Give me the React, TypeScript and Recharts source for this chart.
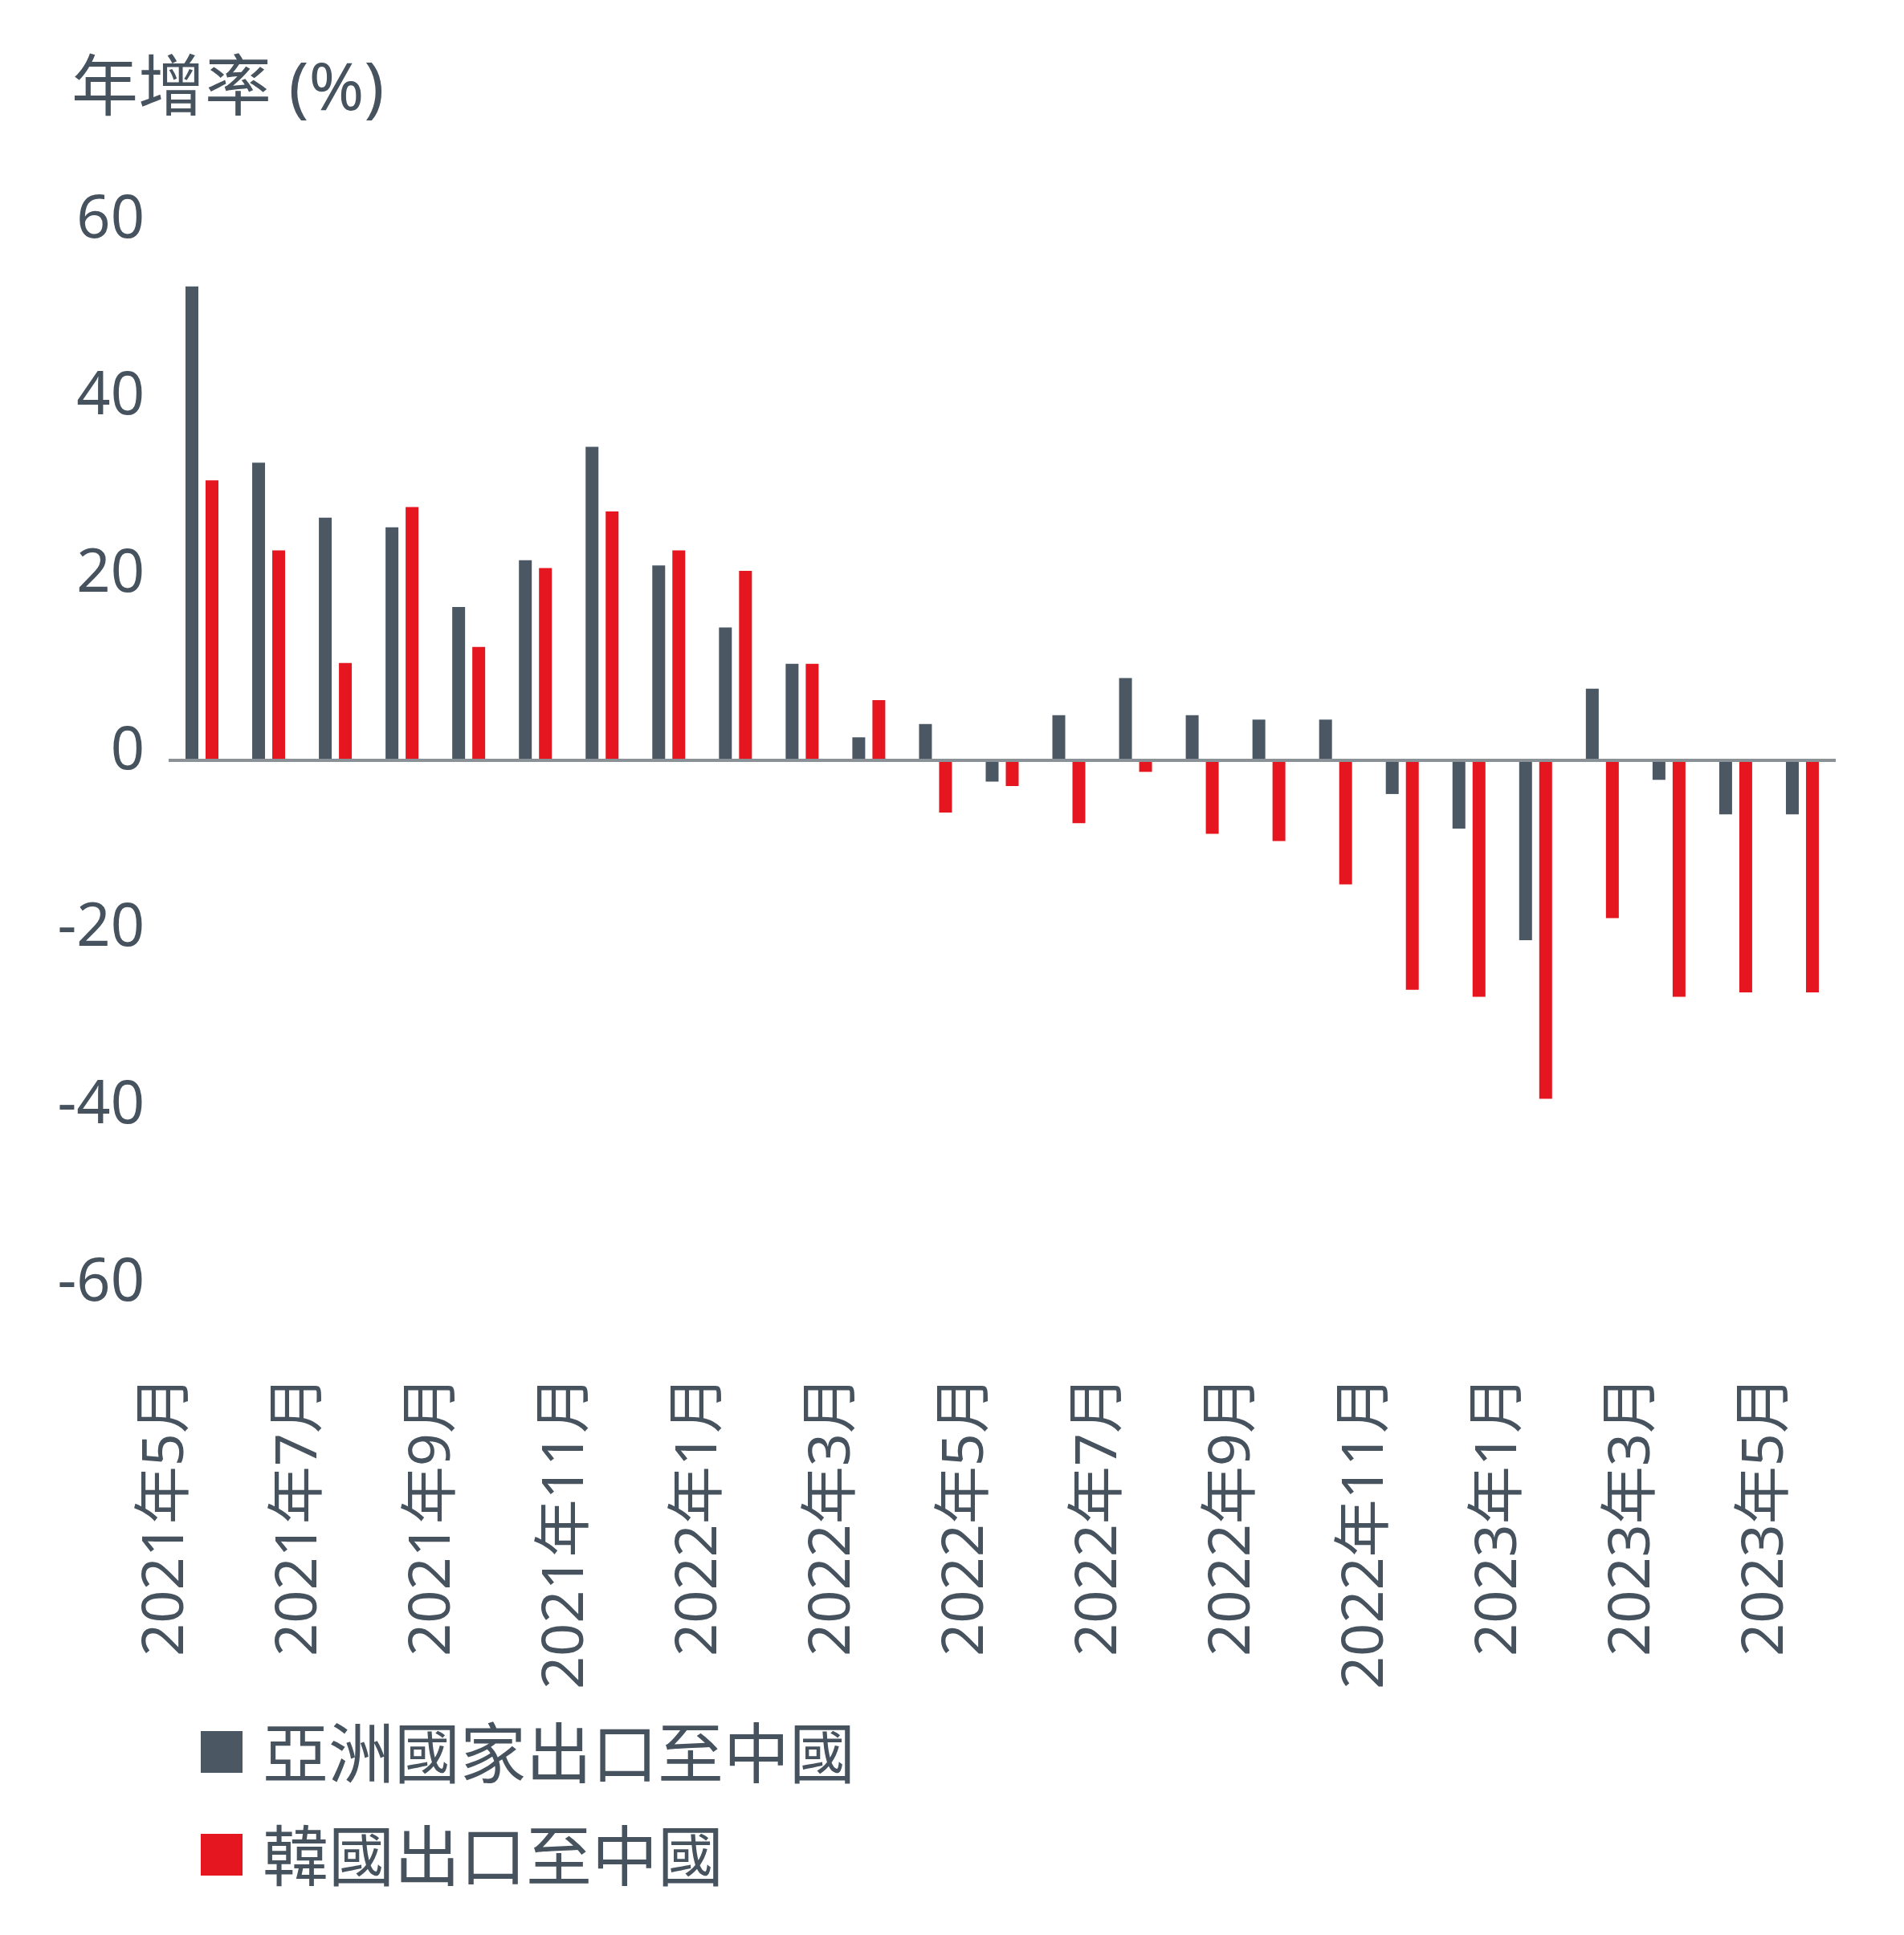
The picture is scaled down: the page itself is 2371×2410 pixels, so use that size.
import { BarChart, Bar, XAxis, YAxis, ReferenceLine, Legend } from 'recharts';

const months = [
  '2021年5月', '2021年6月', '2021年7月', '2021年8月', '2021年9月', '2021年10月',
  '2021年11月', '2021年12月', '2022年1月', '2022年2月', '2022年3月', '2022年4月',
  '2022年5月', '2022年6月', '2022年7月', '2022年8月', '2022年9月', '2022年10月',
  '2022年11月', '2022年12月', '2023年1月', '2023年2月', '2023年3月', '2023年4月',
  '2023年5月',
];

// 亞洲國家出口至中國 (YoY %)
const asiaToChina = [
  53.5, 33.6, 27.4, 26.3, 17.3, 22.6, 35.4, 22.0, 15.0, 10.9, 2.6, 4.1, -2.4,
  5.1, 9.3, 5.1, 4.6, 4.6, -3.8, -7.7, -20.3, 8.1, -2.2, -6.1, -6.1,
];

// 韓國出口至中國 (YoY %)
const koreaToChina = [
  31.6, 23.7, 11.0, 28.6, 12.8, 21.7, 28.1, 23.7, 21.4, 10.9, 6.8, -5.9, -2.9,
  -7.1, -1.3, -8.3, -9.1, -14.0, -25.9, -26.7, -38.2, -17.8, -26.7, -26.2, -26.2,
];

const yTicks = [-60, -40, -20, 0, 20, 40, 60];

const GRAY = '#4b5863';
const RED = '#e5161f';
const TEXT = '#46535e';
const FONT = '"Noto Sans", "Noto Sans CJK TC", sans-serif';

const data = months.map((m, i) => ({
  month: m,
  asia: asiaToChina[i],
  korea: koreaToChina[i],
}));

const YTick = (props: any) => {
  const { y, payload } = props;
  return (
    <text x={172} y={y - 18} textAnchor="end" dominantBaseline="central" fill={TEXT} fontSize={74} fontFamily={FONT}>
      {payload.value}
    </text>
  );
};

const XTick = (props: any) => {
  const { x, payload } = props;
  const tx = x - 24;
  const ty = 1705;
  return (
    <text
      x={tx}
      y={ty}
      transform={`rotate(-90, ${tx}, ${ty})`}
      textAnchor="end"
      fill={TEXT}
      fontSize={72}
      fontFamily={FONT}
    >
      {payload.value}
    </text>
  );
};

const legendItems = [
  { label: '亞洲國家出口至中國', color: GRAY },
  { label: '韓國出口至中國', color: RED },
];

const LegendContent = () => (
  <div style={{ fontFamily: FONT }}>
    {legendItems.map((item) => (
      <div key={item.label} style={{ display: 'flex', alignItems: 'center', height: 128 }}>
        <span style={{ width: 52, height: 52, background: item.color, marginRight: 25, flex: 'none' }} />
        <span style={{ fontSize: 82, color: TEXT, lineHeight: '128px', whiteSpace: 'nowrap' }}>{item.label}</span>
      </div>
    ))}
  </div>
);

export default function App() {
  return (
    <div style={{ position: 'relative', width: 2355, height: 2394, background: '#fff' }}>
      <div
        style={{
          position: 'absolute',
          left: 81,
          top: 55,
          fontSize: 83,
          lineHeight: '83px',
          color: TEXT,
          fontFamily: FONT,
          whiteSpace: 'nowrap',
        }}
      >
        年增率 (%)
      </div>
      <BarChart
        width={2355}
        height={2394}
        data={data}
        barSize={16}
        barGap={9}
        margin={{ top: 277, right: 77, left: 22, bottom: 493 }}
      >
        <XAxis dataKey="month" interval={1} axisLine={false} tickLine={false} height={300} tick={<XTick />} />
        <YAxis
          width={180}
          domain={[-60, 60]}
          ticks={yTicks}
          axisLine={false}
          tickLine={false}
          tick={<YTick />}
        />
        <ReferenceLine y={0} stroke="#8a9197" strokeWidth={4} />
        <Legend
          layout="horizontal"
          verticalAlign="middle"
          align="center"
          wrapperStyle={{ left: 242, top: 2110, width: 1200 }}
          content={<LegendContent />}
        />
        <Bar dataKey="asia" name="亞洲國家出口至中國" fill={GRAY} isAnimationActive={false} />
        <Bar dataKey="korea" name="韓國出口至中國" fill={RED} isAnimationActive={false} />
      </BarChart>
    </div>
  );
}
